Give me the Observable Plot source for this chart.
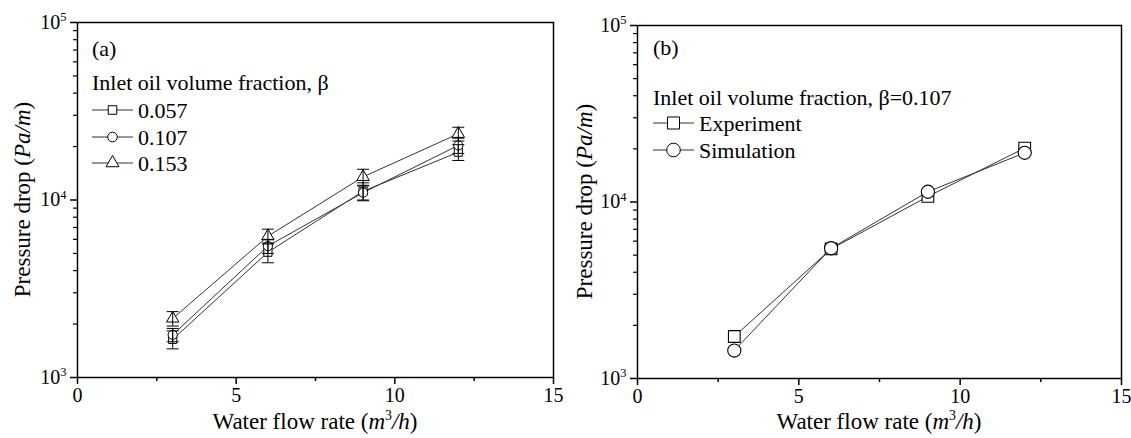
<!DOCTYPE html>
<html><head><meta charset="utf-8">
<script src="https://cdn.jsdelivr.net/npm/d3@7"></script>
<script src="https://cdn.jsdelivr.net/npm/@observablehq/plot@0.6"></script>
<style>
html,body{margin:0;padding:0;background:#fff;}
#wrap{position:relative;width:1131px;height:438px;overflow:hidden;background:#fff;}
#wrap svg{position:absolute;top:0;}
</style></head><body><div id="wrap"></div>
<script>
// ---------- data ----------
const flow = [3, 6, 9, 12];                       // water flow rate, m3/h
const betaLabels = ["0.057", "0.107", "0.153"];   // panel (a) series
const dp057 = [1640, 5080, 11200, 18600];
const dp107 = [1740, 5500, 11000, 20300];
const dp153 = [2150, 6250, 13500, 23600];
const err057 = [190, 650, 1300, 1900];
const err107 = [150, 500, 1000, 2000];
const err153 = [200, 600, 1400, 2100];
const seriesB = ["Experiment", "Simulation"];     // panel (b) series
const dpExp = [1730, 5420, 10750, 20200];
const dpSim = [1440, 5470, 11430, 19000];

const xMajor = [0, 5, 10, 15];
const xLabels = ["0", "5", "10", "15"];
const xMinor = [2.5, 7.5, 12.5];
const yMajor = [1e3, 1e4, 1e5];
const yLabels = ["10^3", "10^4", "10^5"];
const yMinor = [2e3, 3e3, 4e3, 5e3, 6e3, 7e3, 8e3, 9e3, 2e4, 3e4, 4e4, 5e4, 6e4, 7e4, 8e4, 9e4];

const legendTitleA = "Inlet oil volume fraction, β";
const legendTitleB = "Inlet oil volume fraction, β=0.107";
const panelTags = ["(a)", "(b)"];

// ---------- helpers ----------
const FONT = "'Liberation Serif','Times New Roman',serif";
const H = 438;
const cap = {draw(ctx) { ctx.moveTo(-6, 0); ctx.lineTo(6, 0); }};

function axes() {
  return [
    Plot.frame({stroke: "black", strokeWidth: 1.5}),
    Plot.axisX({ticks: xMajor, tickFormat: d => xLabels[xMajor.indexOf(d)], tickSize: 7, tickPadding: 3, label: null, strokeWidth: 1.5, fontSize: 20}),
    Plot.axisX({ticks: xMinor, tickFormat: () => "", tickSize: 4, label: null, strokeWidth: 1.5}),
    Plot.axisY({ticks: yMajor, tickFormat: d => yLabels[yMajor.indexOf(d)], tickSize: 7, tickPadding: 4, label: null, strokeWidth: 1.5, fontSize: 20}),
    Plot.axisY({ticks: yMinor, tickFormat: () => "", tickSize: 4, label: null, strokeWidth: 1.2})
  ];
}

function fixSup(svg) {
  d3.select(svg).selectAll('g[aria-label="y-axis tick label"] text').each(function() {
    const t = d3.select(this); const s = t.text(); if (!s.includes("^")) return;
    const [b, e] = s.split("^"); t.text("");
    t.append("tspan").text(b);
    t.append("tspan").attr("dy", "-0.6em").attr("font-size", "0.62em").text(e);
  });
}

function rich(sel, parts) {
  let shifted = false;
  for (const [s, k] of parts) {
    const ts = sel.append("tspan").text(s);
    if (k === "i") ts.attr("font-style", "italic");
    if (k === "sup") { ts.attr("font-size", "0.6em").attr("dy", "-0.65em"); shifted = true; }
    else if (shifted) { ts.attr("dy", "0.39em"); shifted = false; }
  }
}

function titles(svg, ml, width, mr, mt, mb, yx) {
  const g = d3.select(svg).append("g").attr("font-family", FONT).attr("fill", "black");
  const cx = (ml + width - mr) / 2, cy = (mt + H - mb) / 2;
  rich(g.append("text").attr("x", cx).attr("y", 429).attr("text-anchor", "middle").attr("font-size", 23),
    [["Water flow rate (", ""], ["m", "i"], ["3", "sup"], ["/h", "i"], [")", ""]]);
  rich(g.append("text").attr("transform", `translate(${yx},${cy}) rotate(-90)`).attr("dy", "0.35em")
    .attr("text-anchor", "middle").attr("font-size", 23),
    [["Pressure drop (", ""], ["Pa/m", "i"], [")", ""]]);
}

function legend(svg, {x0, tag, tagY, title, titleY, rows, rowY, r, fs}) {
  const g = d3.select(svg).append("g").attr("font-family", FONT).attr("font-size", fs)
    .attr("fill", "black").attr("text-anchor", "start");
  g.append("text").attr("x", x0).attr("y", tagY).attr("dy", "0.35em").text(tag);
  g.append("text").attr("x", x0).attr("y", titleY).attr("dy", "0.35em").text(title);
  rows.forEach((row, i) => {
    const y = rowY[i];
    g.append("line").attr("x1", x0).attr("x2", x0 + 41).attr("y1", y).attr("y2", y).attr("stroke", "#333").attr("stroke-width", 1);
    g.append("path").attr("transform", `translate(${x0 + 20.5},${y})`)
      .attr("d", d3.symbol(row.sym, Math.PI * r * r)()).attr("fill", "white").attr("stroke", "black").attr("stroke-width", 1);
    g.append("text").attr("x", x0 + 46).attr("y", y).attr("dy", "0.35em").text(row.label);
  });
}

// ---------- panel (a) ----------
const valsA = [dp057, dp107, dp153], errsA = [err057, err107, err153];
const rowsA = betaLabels.flatMap((s, j) => flow.map((x, i) => ({
  s, x, y: valsA[j][i], lo: valsA[j][i] - errsA[j][i], hi: valsA[j][i] + errsA[j][i]
})));
const WA = 566, mlA = 77, mrA = 13, mtA = 22, mbA = 61;
const svgA = Plot.plot({
  width: WA, height: H, marginLeft: mlA, marginRight: mrA, marginTop: mtA, marginBottom: mbA,
  style: {fontFamily: FONT, fontSize: "20px", color: "black", background: "white", overflow: "visible"},
  x: {domain: [0, 15]}, y: {type: "log", domain: [1e3, 1e5]},
  symbol: {domain: betaLabels, range: ["square", "circle", "triangle"]},
  marks: [
    ...axes(),
    Plot.line(rowsA, {x: "x", y: "y", z: "s", stroke: "#333", strokeWidth: 1}),
    Plot.dot(rowsA, {x: "x", y: "y", symbol: "s", r: 4.6, fill: "white", stroke: "black", strokeWidth: 1}),
    Plot.ruleX(rowsA, {x: "x", y1: "lo", y2: "hi", stroke: "black", strokeWidth: 1}),
    Plot.dot(rowsA, {x: "x", y: "lo", symbol: cap, stroke: "black", strokeWidth: 1}),
    Plot.dot(rowsA, {x: "x", y: "hi", symbol: cap, stroke: "black", strokeWidth: 1})
  ]
});
fixSup(svgA);
titles(svgA, mlA, WA, mrA, mtA, mbA, 22);
legend(svgA, {x0: 92, tag: panelTags[0], tagY: 48, title: legendTitleA, titleY: 82, fs: 22, r: 4.8,
  rows: [{sym: d3.symbolSquare, label: betaLabels[0]}, {sym: d3.symbolCircle, label: betaLabels[1]}, {sym: d3.symbolTriangle, label: betaLabels[2]}],
  rowY: [110, 137, 163]});
svgA.style.left = "0px";

// ---------- panel (b) ----------
const valsB = [dpExp, dpSim];
const rowsB = seriesB.flatMap((s, j) => flow.map((x, i) => ({s, x, y: valsB[j][i]})));
const WB = 565, mlB = 71, mrB = 10, mtB = 25, mbB = 60;
const svgB = Plot.plot({
  width: WB, height: H, marginLeft: mlB, marginRight: mrB, marginTop: mtB, marginBottom: mbB,
  style: {fontFamily: FONT, fontSize: "20px", color: "black", background: "white", overflow: "visible"},
  x: {domain: [0, 15]}, y: {type: "log", domain: [1e3, 1e5]},
  symbol: {domain: seriesB, range: ["square", "circle"]},
  marks: [
    ...axes(),
    Plot.line(rowsB, {x: "x", y: "y", z: "s", stroke: "#333", strokeWidth: 1}),
    Plot.dot(rowsB, {x: "x", y: "y", symbol: "s", r: 6.6, fill: "white", stroke: "black", strokeWidth: 1.1})
  ]
});
fixSup(svgB);
titles(svgB, mlB, WB, mrB, mtB, mbB, 18);
legend(svgB, {x0: 87, tag: panelTags[1], tagY: 47, title: legendTitleB, titleY: 97, fs: 22, r: 6.8,
  rows: [{sym: d3.symbolSquare, label: seriesB[0]}, {sym: d3.symbolCircle, label: seriesB[1]}],
  rowY: [123, 150]});
svgB.style.left = "566px";

const wrap = document.getElementById("wrap");
wrap.appendChild(svgA);
wrap.appendChild(svgB);
</script></body></html>
